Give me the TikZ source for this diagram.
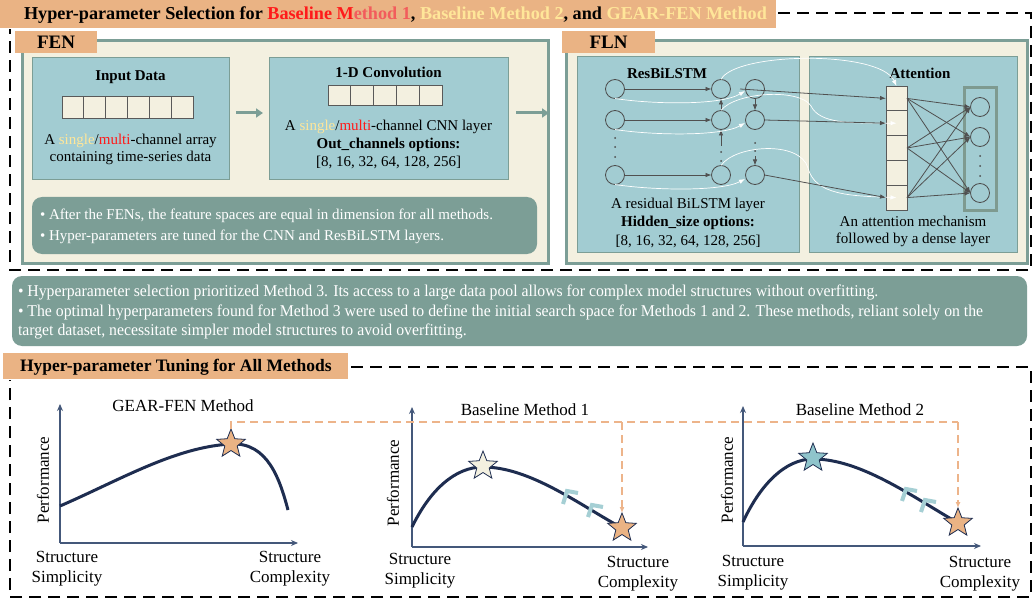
\documentclass[tikz,border=0pt]{standalone}
\usepackage{fontspec}
\setmainfont{Liberation Serif}
\newfontfamily\condfont[FakeStretch=0.955]{Liberation Serif}
\usetikzlibrary{shapes.geometric,arrows.meta,calc}
\definecolor{hdr}{HTML}{EAB384}
\definecolor{sage}{HTML}{7C9E96}
\definecolor{cream}{HTML}{F3F0E0}
\definecolor{tealbox}{HTML}{A2CCD2}
\definecolor{navy}{HTML}{1E2D50}
\definecolor{axisc}{HTML}{44587A}
\definecolor{paleyel}{HTML}{FFE699}
\definecolor{myred}{HTML}{FF1A1A}
\definecolor{myred2}{HTML}{F25C5C}
\definecolor{starteal}{HTML}{8FC4CB}
\definecolor{chev}{HTML}{A5CFD4}
\definecolor{arrgray}{HTML}{505050}
\definecolor{dashor}{HTML}{EDB48A}
\definecolor{densec}{HTML}{7E9A90}
\newcommand{\fs}[1]{\fontsize{#1pt}{\fpeval{#1*1.2}pt}\selectfont}
\begin{document}
\begin{tikzpicture}[x=1pt,y=-1pt,
  every node/.style={inner sep=0pt,outer sep=0pt},
  frame/.style={draw=black,line width=2pt,dash pattern=on 12pt off 7pt},
  hdrbox/.style={fill=hdr},
  panel/.style={draw=sage,line width=3pt,fill=cream},
  innerbox/.style={draw=sage,line width=1pt,fill=tealbox},
  notebox/.style={fill=sage,rounded corners=10pt},
  cellbox/.style={draw=black!65,fill=cream,line width=0.8pt},
  neuron/.style={circle,draw=black!70,line width=0.8pt,minimum size=19pt},
  darr/.style={draw=arrgray,line width=0.8pt,-{Latex[length=6pt,width=4.5pt]}},
  warr/.style={draw=white,line width=0.7pt,-{Latex[length=6pt,width=4.5pt]}},
  garr/.style={draw=sage,line width=3pt,-{Triangle[length=7pt,width=9pt]}},
  axisline/.style={draw=axisc,line width=1.5pt,-{Stealth[length=7pt,width=6pt]}},
  perfcurve/.style={draw=navy,line width=3pt},
  odash/.style={draw=dashor,line width=1.5pt,dash pattern=on 8pt off 5pt},
  ostar/.style={star,star points=5,star point ratio=2.3,minimum size=30pt,draw=navy,line width=0.8pt},
  chevron/.style={draw=chev,line width=4pt,line join=miter}
]
\useasboundingbox (0,0) rectangle (1034,599);
\fill[white] (0,0) rectangle (1034,599);

% ---------- top section ----------
\node[hdrbox,minimum width=776pt,minimum height=28pt] (hdr1) at (388,14) {};
\node[anchor=west,font=\fs{18.2}\bfseries] (hdr1t) at (24,15) {Hyper-parameter Selection for \textcolor{myred}{Baseline M}\textcolor{myred2}{ethod 1}, \textcolor{paleyel}{Baseline Method 2}, and \textcolor{paleyel}{GEAR-FEN Method}};
\coordinate (f1) at (778,13);
\coordinate (f2) at (1031,13);
\coordinate (f3) at (1031,270);
\coordinate (f4) at (10,270);
\coordinate (f5) at (10,29);
\draw[frame] (f1) -- (f2) -- (f3) -- (f4) -- (f5);

% FEN panel
\node[panel,minimum width=526pt,minimum height=222pt] (fen) at (285,152) {};
\node[hdrbox,minimum width=82pt,minimum height=22pt,font=\fs{19}\bfseries] (fenlbl) at (56,42) {FEN};
\node[innerbox,minimum width=197pt,minimum height=122pt] (inp) at (130.5,119) {};
\node[innerbox,minimum width=239pt,minimum height=122pt] (conv) at (388.5,119) {};
\node[font=\fs{15}\bfseries] (inpt) at (130.5,77) {Input Data};
\foreach \i in {0,...,5} {\draw[cellbox] (62+\i*21.83,96) rectangle (62+\i*21.83+21.83,118);}
\node[font=\fs{15},align=center] (inptx) at (130.5,149) {A \textcolor{paleyel}{single}/\textcolor{myred}{multi}-channel array\\[-1pt]containing time-series data};
\node[font=\fs{15}\bfseries] (convt) at (388.5,72) {1-D Convolution};
\foreach \i in {0,...,4} {\draw[cellbox] (328+\i*22.8,85) rectangle (328+\i*22.8+22.8,105);}
\node[font=\fs{15}] (convx1) at (388.5,127) {A \textcolor{paleyel}{single}/\textcolor{myred}{multi}-channel CNN layer};
\node[font=\fs{15}\bfseries] (convx2) at (388.5,145) {Out\_channels options:};
\node[font=\fs{15}] (convx3) at (388.5,162) {[8, 16, 32, 64, 128, 256]};
\draw[garr] ([xshift=7pt,yshift=6pt]inp.east) -- ([xshift=-6pt,yshift=6pt]conv.west);
\coordinate (fenr) at (549,113);
\draw[garr] ([xshift=8pt,yshift=6pt]conv.east) -- (fenr);
\node[notebox,minimum width=505pt,minimum height=57pt] (fennote) at (284.5,225.5) {};
\node[anchor=west,font=\fs{15},text=white] (fn1) at (40,216) {• After the FENs, the feature spaces are equal in dimension for all methods.};
\node[anchor=west,font=\fs{15},text=white] (fn2) at (40,237) {• Hyper-parameters are tuned for the CNN and ResBiLSTM layers.};

% FLN panel
\node[panel,minimum width=461pt,minimum height=222pt] (fln) at (796.5,152) {};
\node[hdrbox,minimum width=93pt,minimum height=22pt,font=\fs{19}\bfseries] (flnlbl) at (608.5,42) {FLN};
\node[innerbox,minimum width=222pt,minimum height=195pt] (res) at (688,154.5) {};
\node[innerbox,minimum width=208pt,minimum height=195pt] (att) at (913,154.5) {};
\node[font=\fs{15}\bfseries] (rest) at (667,73) {ResBiLSTM};
\node[font=\fs{15}\bfseries] (attt) at (920,73) {Attention};
\node[font=\fs{15}] (resx1) at (688,205) {A residual BiLSTM layer};
\node[font=\fs{15}\bfseries] (resx2) at (688,223) {Hidden\_size options:};
\node[font=\fs{15}] (resx3) at (688,241) {[8, 16, 32, 64, 128, 256]};
\node[font=\fs{15},align=center] (attx) at (913,231) {An attention mechanism\\[-1pt]followed by a dense layer};

% neurons
\node[neuron] (c11) at (615,89) {};
\node[neuron] (c12) at (615,120) {};
\node[neuron] (c13) at (615,175) {};
\node[neuron] (c21) at (721,89) {};
\node[neuron] (c22) at (721,120) {};
\node[neuron] (c23) at (721,175) {};
\node[neuron] (c31) at (755,89) {};
\node[neuron] (c32) at (755,120) {};
\node[neuron] (c33) at (755,175) {};
\foreach \y in {138,147,157} {\fill[black!70] (615,\y) circle (1pt);}
\foreach \y in {152,161} {\fill[black!70] (721,\y) circle (1pt);}
\foreach \y in {143,151} {\fill[black!70] (755,\y) circle (1pt);}
\draw[darr] (c11) -- (c21);
\draw[darr] (c12) -- (c22);
\draw[darr] (c13) -- (c23);
\draw[darr] (c22) -- (c21);
\coordinate (c2d) at (721,146);
\draw[darr] (c2d) -- (c22);
\draw[darr] (c31) -- (c32);
\coordinate (c3d) at (755,156);
\draw[darr] (c3d) -- (c33);

% attention vector
\foreach \i/\yy in {1/98.4,2/123.2,3/148,4/172.8,5/197.6}
  {\node[cellbox,minimum width=21pt,minimum height=24.8pt] (a\i) at (896.5,\yy) {};}
\node[draw=densec,line width=3pt,minimum width=32pt,minimum height=122pt] (dense) at (980,149) {};
\node[neuron] (d1) at (980,107) {};
\node[neuron] (d2) at (980,137) {};
\node[neuron] (d3) at (980,193) {};
\foreach \y in {156,166,176} {\fill[black!70] (980,\y) circle (1pt);}
\foreach \a in {a1,a3,a5} {\foreach \d in {d1,d2,d3} {\draw[darr] (\a.east) -- (\d.west);}}

% residual white curves
\draw[warr] (c11.south) .. controls (650,104) and (720,106) .. (745,91);
\draw[warr] (c12.south) .. controls (650,135) and (720,137) .. (745,123);
\draw[warr] (c13.south) .. controls (650,190) and (720,192) .. (745,179);
\draw[warr] (c21.north) .. controls (735,52) and (880,50) .. (a1.north);
\draw[warr] (c22.north) .. controls (735,92) and (800,88) .. (811,106) .. controls (820,124) and (850,123) .. (a2.center);
\draw[warr] (c23.north) .. controls (735,145) and (800,140) .. (808,168) .. controls (815,195) and (850,196) .. (a5.center);
% gray arrows to attention
\coordinate (c31l) at (740,89);
\draw[darr] (c31l) -- (a1.west);
\draw[darr] (c32.east) -- (a2.west);
\draw[darr] (c33.east) -- (a5.west);

% ---------- middle note ----------
\node[notebox,minimum width=1015pt,minimum height=70pt] (midnote) at (519.5,311) {};
\node[anchor=north west,font=\condfont\fontsize{16.5pt}{19.5pt}\selectfont,text=white,align=left] (midtext) at (18,285) {• Hyperparameter selection prioritized Method 3. Its access to a large data pool allows for complex model structures without overfitting.\\• The optimal hyperparameters found for Method 3 were used to define the initial search space for Methods 1 and 2. These methods, reliant solely on the\\target dataset, necessitate simpler model structures to avoid overfitting.};

% ---------- bottom section ----------
\node[hdrbox,minimum width=345pt,minimum height=26pt] (hdr2) at (175.5,366) {};
\node[anchor=west,font=\fs{17.5}\bfseries] (hdr2t) at (20,367) {Hyper-parameter Tuning for All Methods};
\coordinate (g1) at (351,367);
\coordinate (g2) at (1031,367);
\coordinate (g3) at (1031,597);
\coordinate (g4) at (10,597);
\coordinate (g5) at (10,380);
\draw[frame] (g1) -- (g2) -- (g3) -- (g4) -- (g5);

% plot 1
\coordinate (o1) at (60,543);
\coordinate (y1) at (60,404);
\coordinate (x1) at (298,543);
\draw[axisline] (o1) -- (y1);
\draw[axisline] (o1) -- (x1);
\draw[perfcurve] (60,506) .. controls (120,480) and (175,447) .. (231,444) .. controls (268,442) and (280,480) .. (288,510);
\node[font=\fs{17}] (t1) at (183,406) {GEAR-FEN Method};
\node[font=\fs{17},rotate=90] (p1) at (43,480) {Performance};
\node[font=\fs{17},align=center] (s1) at (67,569) {Structure\\[0pt]Simplicity};
\node[font=\fs{17},align=center] (k1) at (290,569) {Structure\\[0pt]Complexity};

% plot 2
\coordinate (o2) at (412,547);
\coordinate (y2) at (412,407);
\coordinate (x2) at (648,547);
\draw[axisline] (o2) -- (y2);
\draw[axisline] (o2) -- (x2);
\draw[perfcurve] (412,527) .. controls (430,490) and (455,467) .. (483,467) .. controls (530,467) and (580,505) .. (622,528);
\draw[chevron] (563,504) -- (567,491) -- (578,493);
\draw[chevron] (588,517) -- (592,505) -- (603,507);
\node[font=\fs{17}] (t2) at (525,410) {Baseline Method 1};
\node[font=\fs{17},rotate=90] (p2) at (393,483) {Performance};
\node[font=\fs{17},align=center] (s2) at (420,571) {Structure\\[0pt]Simplicity};
\node[font=\fs{17},align=center] (k2) at (638,574) {Structure\\[0pt]Complexity};

% plot 3
\coordinate (o3) at (743,546);
\coordinate (y3) at (743,406);
\coordinate (x3) at (981,546);
\draw[axisline] (o3) -- (y3);
\draw[axisline] (o3) -- (x3);
\draw[perfcurve] (743,522) .. controls (760,485) and (785,459) .. (813,459) .. controls (860,459) and (910,495) .. (958,523);
\draw[chevron] (902,501) -- (906,489) -- (917,491);
\draw[chevron] (921,512) -- (925,500) -- (936,502);
\node[font=\fs{17}] (t3) at (860,410) {Baseline Method 2};
\node[font=\fs{17},rotate=90] (p3) at (727,480) {Performance};
\node[font=\fs{17},align=center] (s3) at (753,573) {Structure\\[0pt]Simplicity};
\node[font=\fs{17},align=center] (k3) at (980,574) {Structure\\[0pt]Complexity};

% stars
\node[ostar,fill=hdr] (st1) at (231,444) {};
\node[ostar,fill=cream] (st2) at (483,466) {};
\node[ostar,fill=hdr] (st3) at (622,528) {};
\node[ostar,fill=starteal] (st4) at (813,458) {};
\node[ostar,fill=hdr] (st5) at (958,523) {};

% orange dashed guide
\coordinate (h0) at (231,422);
\coordinate (h1) at (622,422);
\coordinate (h2) at (958,422);
\draw[odash] (st1.north) -- (h0) -- (h2);
\draw[odash,-{Latex[length=6pt,width=5pt]}] (h2) -- (st5.north);
\draw[odash,-{Latex[length=6pt,width=5pt]}] (h1) -- (st3.north);
\end{tikzpicture}
\end{document}
